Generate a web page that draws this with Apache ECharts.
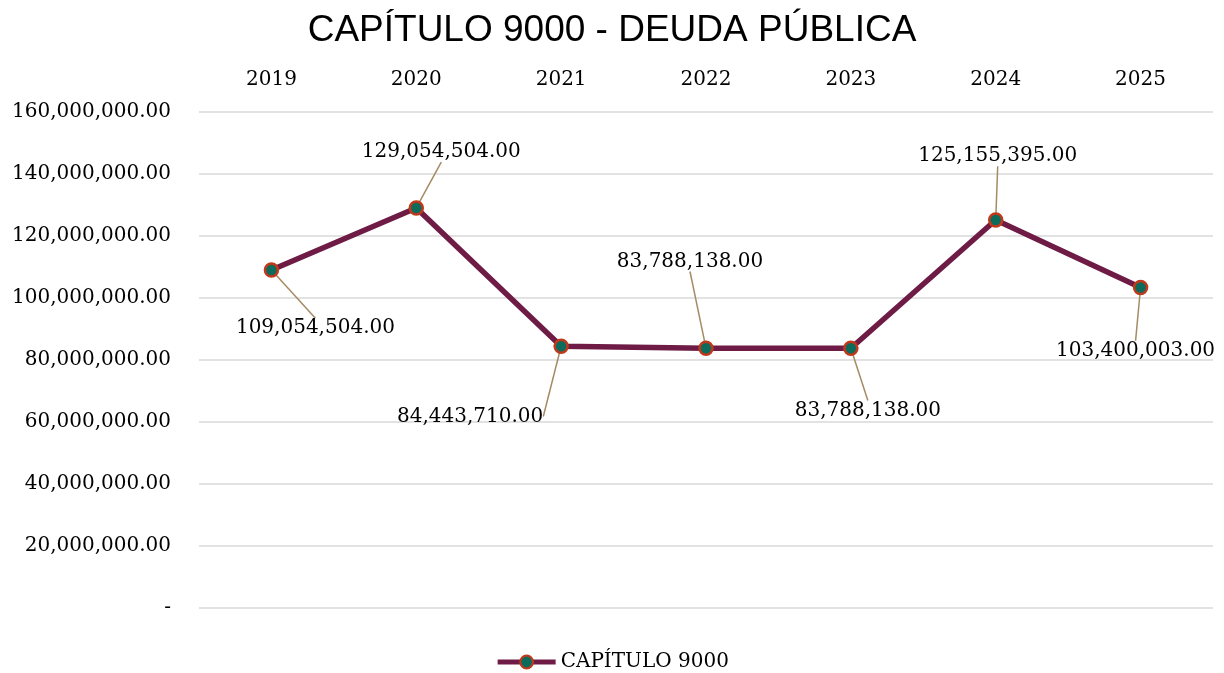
<!DOCTYPE html>
<html>
<head>
<meta charset="utf-8">
<script src="https://cdn.jsdelivr.net/npm/echarts@6/dist/echarts.min.js"></script>
<style>
html, body { margin: 0; padding: 0; background: #fff; }
#main { width: 1224px; height: 673px; }
</style>
</head>
<body>
<div id="main"></div>
<script>
var years = ['2019', '2020', '2021', '2022', '2023', '2024', '2025'];
var deuda = [109054504, 129054504, 84443710, 83788138, 83788138, 125155395, 103400003];
// label offsets (px) from the default 'top' position
var labelShift = [[44, 81], [25, -33], [-91, 93], [-16, -64], [17, 85], [2, -41], [-5, 86]];

var serif = '"DejaVu Serif", serif';

function fmt(v) {
	if (v === 0) return '-';
	return v.toFixed(2).replace(/\B(?=(\d{3})+(?!\d))/g, ',');
}

var myChart = echarts.init(document.getElementById('main'));

option = {
	backgroundColor: '#fff',
	animation: false,
	title: {
		text: 'CAPÍTULO 9000 - DEUDA PÚBLICA',
		left: 'center',
		top: 7,
		textStyle: {
			fontFamily: '"Liberation Sans", Arial, sans-serif',
			fontWeight: 'normal',
			fontSize: 37,
			color: '#000'
		}
	},
	grid: {
		left: 199,
		right: 11,
		top: 112,
		bottom: 65
	},
	legend: {
		top: 647,
		left: 'center',
		itemWidth: 58,
		itemHeight: 16,
		itemGap: 2,
		lineStyle: { width: 5 },
		textStyle: {
			fontFamily: serif,
			fontSize: 20,
			color: '#000'
		},
		data: ['CAPÍTULO 9000']
	},
	xAxis: {
		type: 'category',
		position: 'top',
		data: years,
		axisLine: { show: false },
		axisTick: { show: false },
		axisLabel: {
			margin: 22,
			fontFamily: serif,
			fontSize: 20,
			color: '#000'
		}
	},
	yAxis: {
		type: 'value',
		min: 0,
		max: 160000000,
		interval: 20000000,
		axisLine: { show: false },
		axisTick: { show: false },
		splitLine: { lineStyle: { color: '#d9d9d9', width: 1.5 } },
		axisLabel: {
			margin: 28,
			fontFamily: serif,
			fontSize: 20,
			color: '#000',
			formatter: fmt
		}
	},
	series: [{
		name: 'CAPÍTULO 9000',
		type: 'line',
		data: deuda,
		symbol: 'circle',
		symbolSize: 13,
		itemStyle: {
			color: '#0d6b5c',
			borderColor: '#c0391b',
			borderWidth: 2.5
		},
		lineStyle: {
			color: '#6e1c45',
			width: 5.5
		},
		label: {
			show: true,
			position: 'top',
			fontFamily: serif,
			fontSize: 20,
			color: '#000',
			formatter: function (p) { return fmt(p.value); }
		},
		labelLine: {
			show: true,
			lineStyle: { color: '#a58b65', width: 1.5 }
		},
		labelLayout: function (p) {
			var s = labelShift[p.dataIndex];
			return { dx: s[0], dy: s[1] };
		}
	}]
};

myChart.setOption(option);
</script>
</body>
</html>
